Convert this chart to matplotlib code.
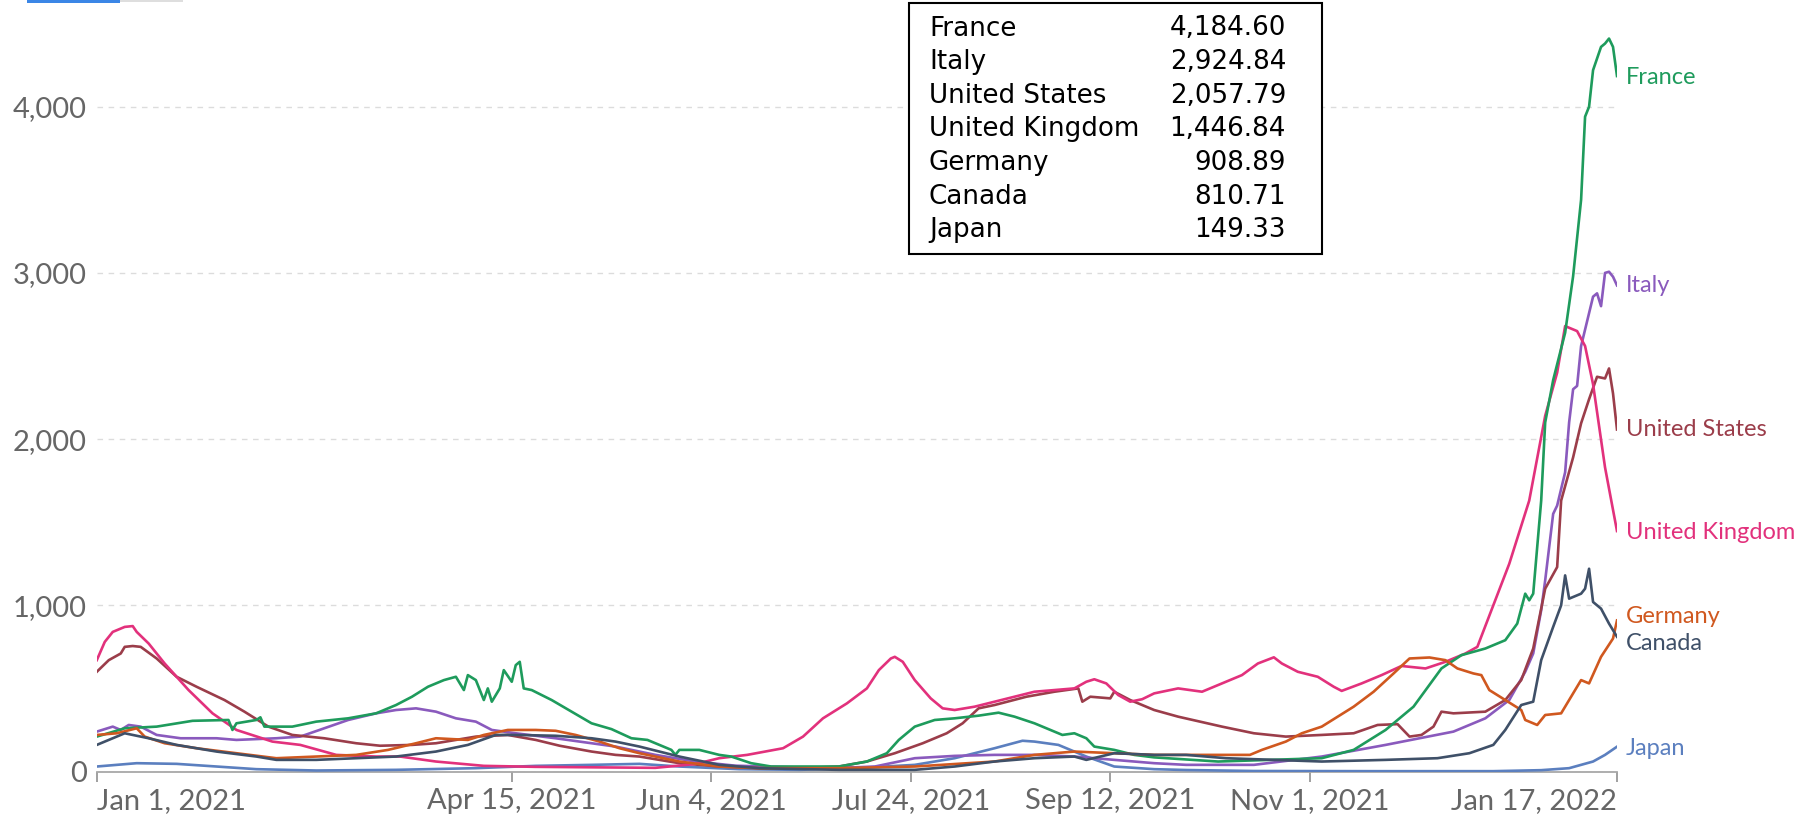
import numpy as np
import matplotlib
matplotlib.use("Agg")
import matplotlib.pyplot as plt
import matplotlib.dates as mdates
from matplotlib.patches import Rectangle
from matplotlib.ticker import FuncFormatter

# --- data: day offsets from Jan 1, 2021 and values ---
start = np.datetime64("2021-01-01")

france_days = [0, 7, 15, 24, 33, 34, 35, 40, 41, 42, 49, 55, 63, 70, 75, 79, 83, 87, 90, 92, 93, 95, 97, 98,
               99, 101, 102, 104, 105, 106, 107, 109, 114, 119, 124, 129, 134, 138, 144, 145, 146, 151, 156,
               159, 164, 169, 176, 186, 193, 198, 201, 205, 210, 215, 221, 226, 230, 235, 239, 242, 245, 248,
               250, 255, 260, 265, 281, 298, 307, 315, 323, 330, 337, 342, 348, 353, 356, 358, 359, 360, 362,
               363, 365, 368, 370, 372, 373, 374, 375, 377, 378, 379, 380, 381]
france_vals = [210, 260, 270, 305, 310, 250, 290, 310, 326, 270, 270, 300, 320, 350, 400, 450, 510, 550, 570,
               490, 580, 550, 430, 500, 420, 500, 610, 540, 640, 660, 500, 490, 430, 360, 290, 255, 200, 190,
               130, 100, 130, 130, 100, 90, 50, 30, 30, 30, 60, 110, 190, 270, 310, 320, 336, 354, 330, 290,
               250, 220, 230, 200, 150, 130, 100, 85, 60, 73, 80, 130, 250, 390, 620, 700, 740, 790, 890, 1070,
               1030, 1070, 1630, 2100, 2355, 2640, 2980, 3440, 3940, 4000, 4220, 4360, 4380, 4410, 4360,
               4184.60]

italy_days = [0, 4, 6, 8, 11, 15, 21, 30, 35, 45, 51, 57, 63, 70, 75, 80, 85, 90, 95, 99, 105, 115, 124, 130,
              140, 150, 160, 175, 190, 195, 205, 215, 225, 235, 245, 255, 265, 273, 290, 307, 323, 340, 348,
              354, 358, 360, 362, 363, 365, 366, 368, 369, 370, 371, 372, 375, 376, 377, 378, 379, 380, 381]
italy_vals = [240, 270, 250, 280, 270, 220, 200, 200, 190, 200, 210, 260, 310, 350, 370, 380, 360, 320, 300,
              250, 230, 200, 170, 150, 100, 60, 35, 25, 25, 30, 80, 94, 100, 100, 90, 70, 50, 40, 40, 90,
              160, 240, 320, 430, 600, 710, 970, 1150, 1550, 1600, 1800, 2100, 2300, 2320, 2560, 2857, 2877,
              2800, 3000, 3007, 2977, 2924.84]

us_days = [0, 3, 6, 7, 9, 11, 15, 20, 25, 32, 37, 43, 49, 57, 65, 71, 79, 85, 95, 103, 110, 116, 124, 130,
           136, 146, 156, 166, 176, 186, 193, 200, 207, 213, 217, 221, 225, 233, 240, 246, 247, 249, 254, 255,
           259, 265, 271, 282, 290, 298, 307, 315, 321, 326, 329, 332, 335, 337, 340, 348, 353, 357, 360, 363,
           366, 367, 370, 372, 374, 376, 378, 379, 380, 381]
us_vals = [600, 670, 710, 750, 755, 750, 680, 570, 510, 430, 360, 270, 220, 200, 170, 155, 160, 170, 210, 220,
           190, 155, 120, 100, 90, 50, 30, 20, 20, 30, 60, 110, 170, 230, 290, 380, 400, 450, 480, 500, 420,
           450, 440, 480, 430, 370, 330, 270, 230, 210, 220, 230, 280, 285, 210, 220, 270, 360, 350, 360, 430,
           550, 740, 1100, 1230, 1630, 1890, 2095, 2240, 2375, 2365, 2425, 2275, 2057.79]

uk_days = [0, 2, 4, 7, 9, 10, 13, 17, 23, 29, 35, 44, 51, 60, 70, 76, 85, 97, 110, 125, 140, 150, 156, 163,
           172, 177, 182, 188, 193, 196, 199, 200, 202, 205, 209, 212, 215, 220, 225, 230, 235, 240, 245, 248,
           250, 253, 256, 259, 262, 265, 271, 277, 281, 287, 291, 295, 297, 301, 306, 310, 312, 317, 322, 327,
           333, 338, 343, 346, 350, 354, 359, 363, 366, 368, 371, 373, 375, 378, 381]
uk_vals = [670, 780, 840, 870, 875, 840, 770, 650, 490, 350, 250, 180, 160, 100, 90, 90, 60, 34, 28, 25, 22,
           45, 80, 100, 140, 210, 320, 410, 500, 610, 680, 690, 660, 550, 440, 380, 370, 390, 420, 450, 480,
           490, 500, 540, 555, 530, 460, 420, 435, 470, 500, 480, 520, 580, 650, 687, 650, 600, 570, 510, 485,
           530, 580, 635, 620, 660, 710, 750, 1000, 1250, 1630, 2140, 2400, 2680, 2650, 2560, 2330, 1830,
           1446.84]

germany_days = [0, 5, 10, 12, 17, 25, 35, 45, 55, 65, 73, 80, 85, 93, 97, 103, 110, 115, 120, 126, 131, 136,
                146, 156, 166, 186, 205, 225, 235, 245, 255, 265, 281, 289, 292, 298, 302, 307, 311, 315, 320,
                325, 329, 334, 338, 341, 345, 347, 349, 353, 357, 358, 361, 363, 367, 372, 374, 377, 380, 381]
germany_vals = [220, 230, 260, 210, 170, 140, 110, 80, 90, 100, 130, 170, 200, 190, 220, 250, 250, 245, 220,
                180, 140, 110, 60, 30, 20, 20, 30, 60, 100, 120, 110, 100, 100, 100, 130, 180, 230, 270, 330,
                390, 480, 590, 680, 686, 670, 620, 590, 580, 490, 430, 370, 310, 280, 340, 350, 550, 530, 690,
                800, 908.89]

canada_days = [0, 4, 7, 13, 20, 30, 40, 45, 55, 65, 75, 85, 93, 100, 105, 115, 124, 130, 136, 146, 156, 166,
               186, 205, 215, 225, 235, 245, 248, 255, 265, 273, 283, 307, 323, 336, 344, 350, 353, 357, 360,
               362, 365, 367, 368, 369, 372, 373, 374, 375, 377, 379, 381]
canada_vals = [160, 200, 230, 200, 160, 120, 90, 70, 70, 80, 90, 120, 160, 220, 220, 215, 200, 180, 150, 90,
               40, 20, 10, 10, 30, 60, 80, 90, 70, 110, 100, 100, 80, 60, 70, 80, 110, 160, 250, 400, 420, 670,
               870, 1000, 1180, 1040, 1070, 1100, 1220, 1020, 980, 890, 810.71]

japan_days = [0, 10, 20, 30, 40, 55, 75, 95, 110, 124, 136, 146, 161, 176, 190, 205, 215, 225, 232, 235, 241,
              248, 255, 265, 273, 290, 320, 350, 362, 369, 375, 378, 381]
japan_vals = [30, 50, 46, 30, 14, 6, 10, 20, 34, 40, 46, 30, 14, 10, 20, 40, 80, 140, 185, 180, 160, 90, 30,
              14, 9, 3, 2, 2, 8, 20, 60, 100, 149.33]

countries = ["France", "Italy", "United States", "United Kingdom", "Germany", "Canada", "Japan"]
colors = ["#1e9b5c", "#8a5abd", "#9b3d4a", "#e2317c", "#d0581f", "#3f5068", "#5b7fbf"]
# label heights on the value scale (Germany/Canada nudged apart like the original)
label_vals = [4178, 2927, 2055, 1441, 930, 773, 141]

tick_dates = ["2021-01-01", "2021-04-15", "2021-06-04", "2021-07-24", "2021-09-12", "2021-11-01", "2022-01-17"]
tick_labels = ["Jan 1, 2021", "Apr 15, 2021", "Jun 4, 2021", "Jul 24, 2021", "Sep 12, 2021", "Nov 1, 2021",
               "Jan 17, 2022"]

series_days = [france_days, italy_days, us_days, uk_days, germany_days, canada_days, japan_days]
series_vals = [france_vals, italy_vals, us_vals, uk_vals, germany_vals, canada_vals, japan_vals]


def to_dates(days):
    return start + np.array(days).astype("timedelta64[D]")


W, H = 1811, 822
fig = plt.figure(figsize=(W / 100, H / 100), dpi=100)
ax = fig.add_axes([96.8 / W, (H - 771.5) / H, (1617 - 96.8) / W, 764.5 / H])

# draw order, bottom to top
draw_order = [6, 1, 2, 3, 0, 4, 5]
for i in draw_order:
    ax.plot(to_dates(series_days[i]), series_vals[i], color=colors[i], lw=1.9,
            solid_joinstyle="round", zorder=3 + draw_order.index(i))

end_date = to_dates([381])[0]
for name, col, lv in zip(countries, colors, label_vals):
    ax.annotate(name, xy=(mdates.date2num(end_date), lv), xytext=(9, 0), textcoords="offset pixels",
                color=col, fontsize=17, family="Lato", va="center", ha="left", annotation_clip=False)

ax.set_xlim(mdates.date2num(start), mdates.date2num(end_date))
ax.set_ylim(0, 4600)

ax.set_yticks([0, 1000, 2000, 3000, 4000])
ax.yaxis.set_major_formatter(FuncFormatter(lambda v, p: f"{v:,.0f}"))
ax.set_xticks([mdates.date2num(np.datetime64(d)) for d in tick_dates])
ax.set_xticklabels(tick_labels)

ax.tick_params(axis="y", length=0, pad=7, labelsize=21, labelcolor="#666666")
ax.tick_params(axis="x", length=7, width=1.3, color="#999999", pad=5, labelsize=21, labelcolor="#666666")
for lab in ax.get_xticklabels() + ax.get_yticklabels():
    lab.set_family("Lato")
xl = ax.get_xticklabels()
xl[0].set_ha("left")
xl[-1].set_ha("right")

for s in ["top", "right", "left"]:
    ax.spines[s].set_visible(False)
ax.spines["bottom"].set_color("#a8a8a8")
ax.spines["bottom"].set_linewidth(1.3)
ax.grid(axis="y", color="#dcdcdc", linestyle=(0, (4, 4)), linewidth=1)
ax.set_axisbelow(True)

# tooltip box with end values
order = np.argsort([-v[-1] for v in series_vals])
bx0, by0, bx1, by1 = 909, 3, 1322, 254
fig.add_artist(Rectangle((bx0 / W, 1 - by1 / H), (bx1 - bx0) / W, (by1 - by0) / H,
                         transform=fig.transFigure, facecolor="white", edgecolor="black", lw=1.5, zorder=10))
for r, i in enumerate(order):
    yy = 1 - (28.5 + 33.6 * r) / H
    fig.text(929 / W, yy, countries[i], fontsize=18.8, family="DejaVu Sans", va="center", ha="left", zorder=11)
    fig.text(1286 / W, yy, f"{series_vals[i][-1]:,.2f}", fontsize=18.8, family="DejaVu Sans",
             va="center", ha="right", zorder=11)

# bits of the toggle buttons cut off at the top edge
fig.add_artist(Rectangle((27 / W, 1 - 3 / H), 93 / W, 3 / H, transform=fig.transFigure,
                         facecolor="#3b86e6", edgecolor="none"))
fig.add_artist(Rectangle((120 / W, 1 - 2 / H), 63 / W, 2 / H, transform=fig.transFigure,
                         facecolor="#dedede", edgecolor="none"))

fig.savefig("out.png", dpi=100)
